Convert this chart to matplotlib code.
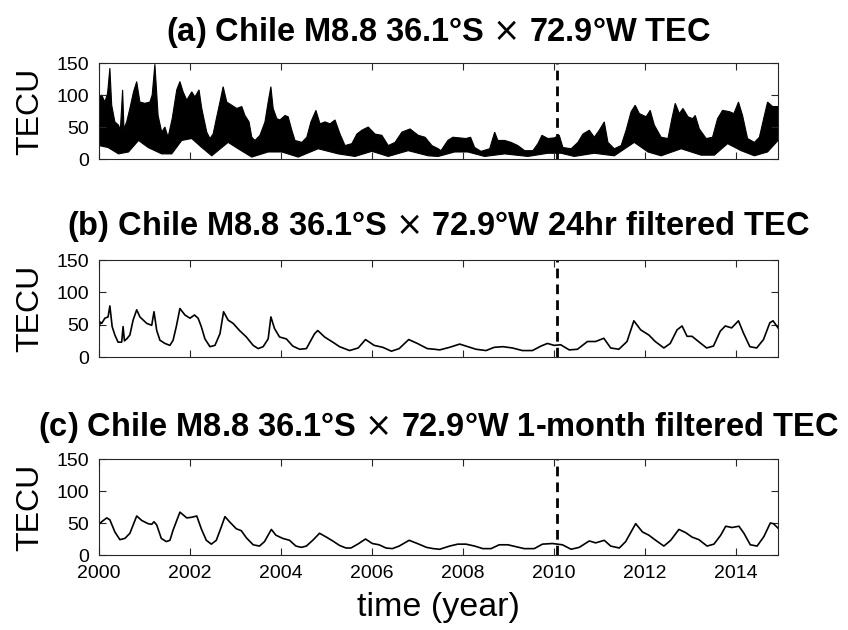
import numpy as np
import matplotlib
matplotlib.use('Agg')
import matplotlib.pyplot as plt

plt.rcParams['font.family'] = ['Liberation Sans', 'DejaVu Sans']

# (a) raw TEC: upper / lower edge of the dense hourly band
a_top_year = [2000.0, 2000.06, 2000.13, 2000.19, 2000.24, 2000.28, 2000.35, 2000.43, 2000.47, 2000.52,
              2000.55, 2000.61, 2000.68, 2000.76, 2000.83, 2000.9, 2001.01, 2001.12, 2001.17, 2001.23,
              2001.3, 2001.38, 2001.45, 2001.52, 2001.61, 2001.71, 2001.78, 2001.85, 2001.93, 2002.04,
              2002.11, 2002.2, 2002.26, 2002.37, 2002.44, 2002.51, 2002.59, 2002.66, 2002.73, 2002.81,
              2002.92, 2003.03, 2003.14, 2003.21, 2003.3, 2003.36, 2003.43, 2003.54, 2003.65, 2003.72,
              2003.78, 2003.83, 2003.91, 2003.98, 2004.09, 2004.16, 2004.24, 2004.31, 2004.46, 2004.57,
              2004.66, 2004.77, 2004.86, 2004.97, 2005.08, 2005.19, 2005.3, 2005.41, 2005.56, 2005.67,
              2005.78, 2005.92, 2006.07, 2006.22, 2006.36, 2006.51, 2006.66, 2006.84, 2007.02, 2007.17,
              2007.32, 2007.46, 2007.52, 2007.67, 2007.78, 2007.93, 2008.07, 2008.17, 2008.26, 2008.4,
              2008.59, 2008.7, 2008.77, 2008.92, 2009.06, 2009.21, 2009.36, 2009.54, 2009.65, 2009.74,
              2009.87, 2010.01, 2010.12, 2010.2, 2010.38, 2010.53, 2010.64, 2010.78, 2010.89, 2011.0,
              2011.11, 2011.19, 2011.33, 2011.48, 2011.59, 2011.7, 2011.79, 2011.88, 2012.03, 2012.12,
              2012.21, 2012.36, 2012.51, 2012.59, 2012.67, 2012.76, 2012.84, 2012.95, 2013.05, 2013.11,
              2013.2, 2013.35, 2013.49, 2013.6, 2013.71, 2013.86, 2013.96, 2014.06, 2014.15, 2014.26,
              2014.41, 2014.52, 2014.63, 2014.7, 2014.81, 2014.93]
a_top = [97, 100, 89, 103, 142, 84, 58, 53, 45, 108,
         47, 58, 79, 105, 121, 89, 87, 89, 100, 148,
         68, 42, 50, 34, 63, 108, 121, 105, 92, 105,
         97, 108, 79, 42, 32, 39, 66, 89, 113, 89,
         84, 79, 82, 68, 58, 34, 29, 37, 58, 89,
         113, 79, 63, 61, 68, 66, 45, 29, 26, 34,
         58, 76, 55, 58, 55, 61, 39, 21, 24, 39,
         45, 50, 39, 37, 21, 26, 42, 47, 37, 34,
         21, 16, 13, 29, 34, 33, 32, 34, 18, 12,
         16, 42, 29, 29, 26, 21, 13, 13, 24, 37,
         32, 33, 37, 18, 16, 26, 39, 45, 34, 45,
         58, 26, 16, 21, 45, 74, 84, 71, 66, 76,
         53, 34, 32, 61, 87, 71, 79, 66, 63, 68,
         47, 32, 34, 63, 76, 74, 71, 89, 68, 32,
         26, 34, 68, 89, 82, 82]
a_bot_year = [2000.0, 2000.2, 2000.43, 2000.65, 2000.87, 2001.08, 2001.38, 2001.6, 2001.82, 2002.04,
              2002.26, 2002.48, 2002.84, 2003.06, 2003.36, 2003.72, 2004.02, 2004.38, 2004.82, 2005.26,
              2005.63, 2006.0, 2006.36, 2006.8, 2007.24, 2007.46, 2007.82, 2008.11, 2008.48, 2008.92,
              2009.43, 2009.87, 2010.16, 2010.45, 2010.89, 2011.33, 2011.77, 2012.07, 2012.36, 2012.8,
              2013.24, 2013.53, 2013.82, 2014.12, 2014.41, 2014.7, 2014.93]
a_bot = [21, 18, 8, 11, 29, 18, 8, 8, 29, 32,
         18, 5, 26, 16, 3, 11, 11, 3, 16, 8,
         4, 12, 4, 13, 5, 4, 11, 11, 4, 8,
         4, 9, 9, 4, 9, 5, 26, 11, 5, 16,
         6, 6, 24, 13, 5, 11, 29]

# (b) 24hr filtered TEC
b_year = [2000.0, 2000.03, 2000.06, 2000.13, 2000.2, 2000.24, 2000.29, 2000.35, 2000.42, 2000.5,
          2000.53, 2000.56, 2000.61, 2000.68, 2000.75, 2000.83, 2000.9, 2001.05, 2001.16, 2001.21,
          2001.27, 2001.34, 2001.45, 2001.56, 2001.63, 2001.7, 2001.78, 2001.89, 2002.0, 2002.1,
          2002.18, 2002.25, 2002.33, 2002.44, 2002.55, 2002.66, 2002.74, 2002.84, 2002.95, 2003.09,
          2003.24, 2003.39, 2003.5, 2003.61, 2003.72, 2003.78, 2003.86, 2003.97, 2004.12, 2004.26,
          2004.41, 2004.56, 2004.74, 2004.81, 2004.96, 2005.14, 2005.29, 2005.51, 2005.7, 2005.86,
          2006.05, 2006.24, 2006.43, 2006.6, 2006.81, 2007.0, 2007.22, 2007.38, 2007.49, 2007.71,
          2007.93, 2008.11, 2008.29, 2008.51, 2008.69, 2008.88, 2009.09, 2009.31, 2009.53, 2009.72,
          2009.86, 2010.01, 2010.15, 2010.34, 2010.52, 2010.74, 2010.92, 2011.1, 2011.25, 2011.43,
          2011.61, 2011.76, 2011.91, 2012.09, 2012.23, 2012.42, 2012.56, 2012.71, 2012.82, 2012.93,
          2013.04, 2013.18, 2013.36, 2013.51, 2013.66, 2013.77, 2013.91, 2014.06, 2014.17, 2014.31,
          2014.46, 2014.61, 2014.75, 2014.82, 2014.93]
b_tec = [45, 54, 52, 60, 62, 79, 47, 34, 23, 23,
         47, 25, 28, 34, 57, 73, 62, 52, 49, 70,
         41, 26, 21, 18, 26, 47, 75, 65, 60, 65,
         60, 47, 28, 16, 18, 36, 70, 57, 52, 41,
         31, 18, 13, 16, 28, 62, 44, 31, 28, 17,
         12, 13, 36, 41, 31, 23, 16, 10, 14, 27,
         18, 15, 9, 13, 27, 21, 13, 12, 11, 15,
         20, 16, 12, 10, 15, 16, 14, 10, 10, 17,
         21, 18, 19, 11, 12, 24, 24, 29, 14, 12,
         24, 56, 42, 34, 24, 14, 21, 42, 48, 32,
         32, 24, 14, 17, 40, 48, 45, 56, 37, 16,
         14, 27, 53, 56, 45]

# (c) 1-month filtered TEC
c_year = [2000.0, 2000.06, 2000.17, 2000.24, 2000.35, 2000.46, 2000.57, 2000.68, 2000.83, 2000.94,
          2001.08, 2001.16, 2001.21, 2001.27, 2001.37, 2001.48, 2001.56, 2001.63, 2001.78, 2001.93,
          2002.04, 2002.15, 2002.25, 2002.36, 2002.47, 2002.58, 2002.69, 2002.77, 2002.87, 2003.02,
          2003.13, 2003.24, 2003.39, 2003.53, 2003.64, 2003.79, 2003.89, 2004.04, 2004.19, 2004.33,
          2004.45, 2004.56, 2004.7, 2004.85, 2005.0, 2005.14, 2005.29, 2005.43, 2005.54, 2005.69,
          2005.86, 2006.01, 2006.16, 2006.31, 2006.45, 2006.6, 2006.82, 2007.0, 2007.2, 2007.35,
          2007.49, 2007.71, 2007.89, 2008.07, 2008.26, 2008.44, 2008.62, 2008.8, 2008.99, 2009.17,
          2009.35, 2009.57, 2009.75, 2009.97, 2010.19, 2010.38, 2010.56, 2010.78, 2010.92, 2011.11,
          2011.25, 2011.44, 2011.58, 2011.8, 2011.95, 2012.09, 2012.24, 2012.42, 2012.57, 2012.75,
          2012.9, 2013.04, 2013.19, 2013.37, 2013.52, 2013.67, 2013.78, 2013.92, 2014.07, 2014.18,
          2014.32, 2014.47, 2014.62, 2014.76, 2014.83, 2014.93]
c_tec = [48, 52, 58, 55, 36, 24, 26, 34, 61, 54,
         49, 48, 52, 47, 26, 21, 23, 39, 67, 58,
         59, 61, 41, 23, 17, 23, 44, 60, 52, 41,
         38, 27, 16, 14, 21, 40, 31, 26, 23, 14,
         12, 14, 23, 34, 28, 22, 15, 11, 11, 17,
         25, 18, 16, 11, 10, 14, 23, 18, 12, 10,
         9, 14, 17, 17, 14, 10, 10, 16, 16, 13,
         10, 10, 17, 18, 16, 9, 12, 22, 19, 23,
         14, 11, 21, 49, 36, 31, 23, 14, 23, 40,
         35, 28, 24, 14, 17, 31, 45, 43, 45, 34,
         16, 14, 29, 50, 49, 42]

quake = 2010.06
titles = ['(a) Chile M8.8 36.1°S $\\times$ 72.9°W TEC',
          '(b) Chile M8.8 36.1°S $\\times$ 72.9°W 24hr filtered TEC',
          '(c) Chile M8.8 36.1°S $\\times$ 72.9°W 1-month filtered TEC']
xticks = [2000, 2002, 2004, 2006, 2008, 2010, 2012, 2014]
yticks = [0, 50, 100, 150]

fig = plt.figure(figsize=(8.48, 6.3), dpi=100)
boxes = [[0.1167, 0.7476, 0.8008, 0.1524],
         [0.1167, 0.4333, 0.8008, 0.1540],
         [0.1167, 0.1190, 0.8008, 0.1524]]
title_y = [0.948, 0.640, 0.322]
axes = [fig.add_axes(b) for b in boxes]

axes[0].fill(np.r_[a_top_year, a_bot_year[::-1]], np.r_[a_top, a_bot[::-1]],
             color='k', lw=0.8)
axes[1].plot(b_year, b_tec, color='k', lw=1.2)
axes[2].plot(c_year, c_tec, color='k', lw=1.2)

for i, ax in enumerate(axes):
    ax.axvline(quake, color='k', ls=(0, (3.5, 2.2)), lw=2)
    ax.set_xlim(2000, 2014.93); ax.set_ylim(0, 150)
    ax.set_xticks(xticks); ax.set_yticks(yticks)
    ax.tick_params(direction='in', top=True, right=True, length=5, width=0.8,
                   labelsize=14, pad=7, color='#262626')
    for s in ax.spines.values():
        s.set_color('#262626'); s.set_linewidth(0.8)
    if i < 2:
        ax.set_xticklabels([])
    ax.set_ylabel('TECU', fontsize=23)
    ax.yaxis.set_label_coords(-0.079, 0.5)
    fig.text(0.517, title_y[i], titles[i], ha='center', va='center',
             fontsize=23.5, fontweight='bold')

fig.text(0.517, 0.035, 'time (year)', ha='center', va='center', fontsize=24.5)
fig.savefig('out.png', dpi=100)
